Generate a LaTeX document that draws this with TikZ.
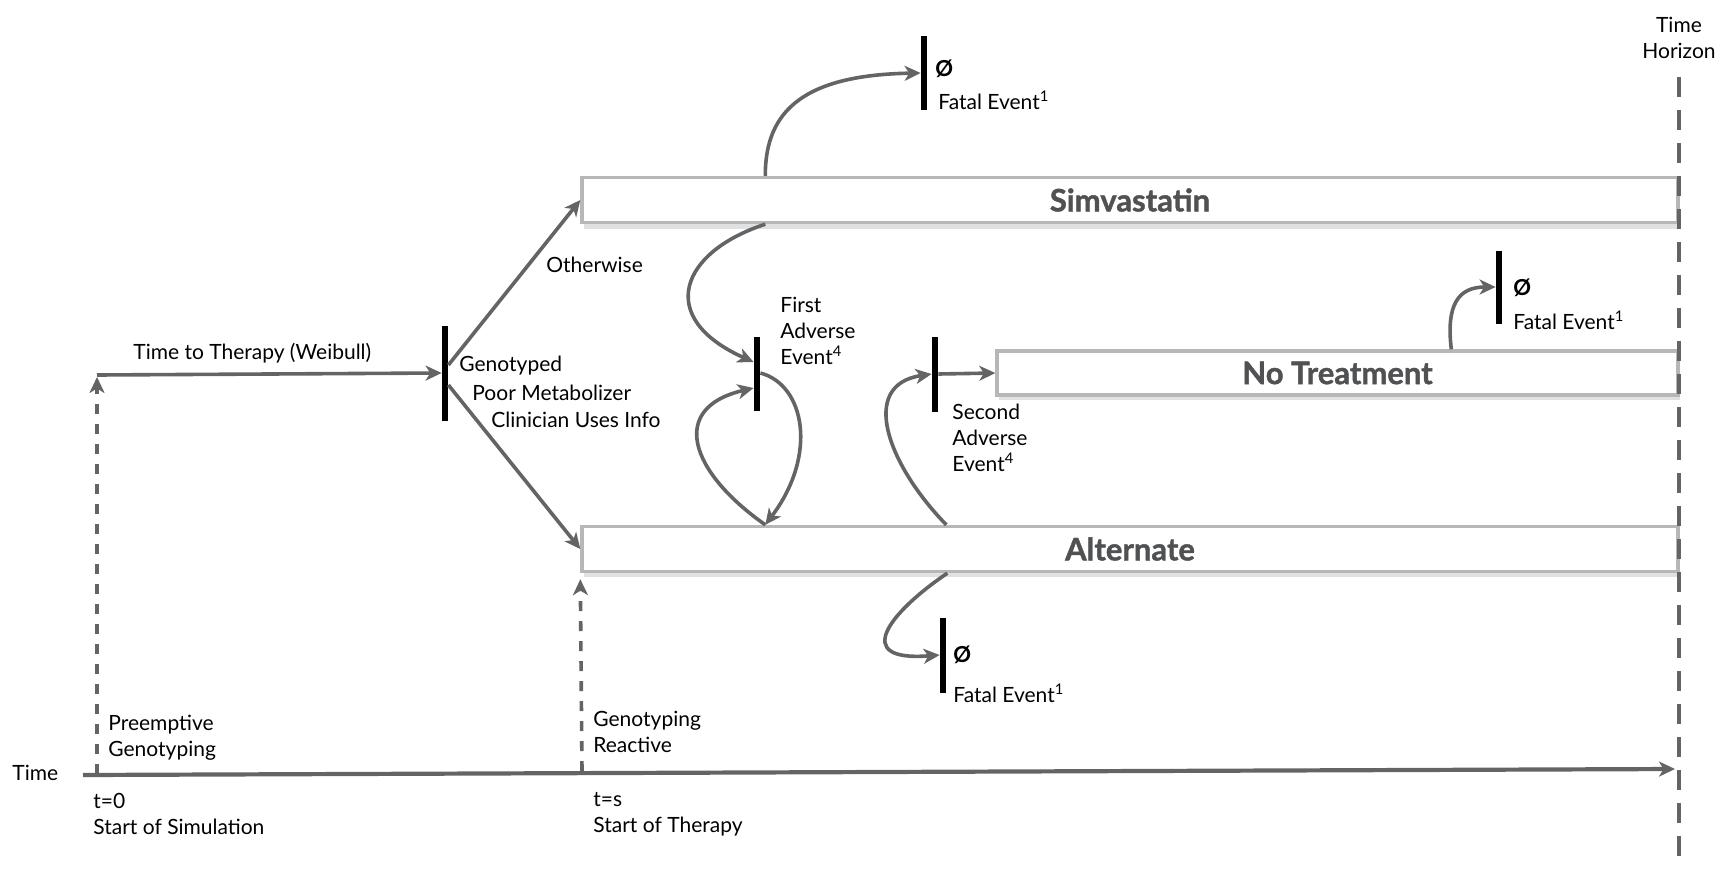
\documentclass[tikz,border=0pt]{standalone}
\usepackage{fontspec}
\setmainfont{Lato}
\newfontfamily\boxfont[BoldFeatures={FakeBold=1.3}]{Lato}
\usetikzlibrary{arrows.meta,calc}
\definecolor{arrgray}{HTML}{636465}
\definecolor{boxgray}{HTML}{B5B7B9}
\definecolor{shadowgray}{HTML}{E0E1E2}
\definecolor{labgray}{HTML}{505153}
\begin{document}
\begin{tikzpicture}[x=0.5pt,y=-0.5pt,
  every node/.style={font=\fontsize{10.5}{13}\selectfont},
  lab/.style={anchor=west,inner sep=0pt,align=left},
  tip/.style={-{Stealth[length=8pt,width=7.5pt,inset=2.3pt]}},
  conn/.style={tip,draw=arrgray,line width=1.8pt},
  dconn/.style={tip,draw=arrgray,line width=1.8pt,dash pattern=on 5pt off 5pt},
  bar/.style={fill=black,inner sep=0pt,minimum width=3pt},
  statebox/.style={draw=boxgray,line width=1.7pt,fill=white,inner sep=0pt,
     font=\boxfont\fontsize{15.5}{17}\bfseries\selectfont,text=labgray},
]
\useasboundingbox (0,0) rectangle (1729,868);

% shadows of boxes
\fill[shadowgray] (584,218) rectangle (1680,229);
\fill[shadowgray] (999,390) rectangle (1680,400);
\fill[shadowgray] (584,566) rectangle (1680,577);

% state boxes
\node[statebox,minimum width=548pt,minimum height=22.5pt] (sim) at (1130,200) {Simvastatin};
\node[statebox,minimum width=340.5pt,minimum height=22pt] (notr) at (1337.5,373) {No Treatment};
\node[statebox,minimum width=548pt,minimum height=22.5pt] (alt) at (1130,549) {Alternate};

% time horizon
\node[lab,anchor=center,align=center] (th) at (1679,38) {Time\\Horizon};
\coordinate (h0) at (1679,77);
\coordinate (h1) at (1679,868);
\draw[arrgray,line width=2pt,dash pattern=on 10pt off 6.5pt] (h0) -- (h1);

% time axis
\coordinate (ta0) at (83,775);
\coordinate (ta1) at (1675,769);
\draw[conn,line width=2.1pt] (ta0) -- (ta1);
\node[lab] (tl) at (12,773) {Time};
\node[lab] (t0) at (93,814) {t=0\\Start of Simulation};
\node[lab] (ts) at (593,814) {t=s\\Start of Therapy};

% genotyping dashed arrows
\coordinate (d0) at (97,774);
\coordinate (c0) at (97,375);
\coordinate (d1) at (582,771);
\draw[dconn] (d0) -- ([yshift=-1pt]c0);
\draw[dconn] (d1) -- ([yshift=-3pt]alt.south west);
\node[lab] (pg) at (108,738) {Preemptive\\Genotyping};
\node[lab] (rg) at (593,732) {Genotyping\\Reactive};

% decision bar
\node[bar,minimum height=47.5pt] (g) at (445,373) {};
\draw[conn] (c0) -- (g.west);
\node[lab] (ttt) at (133,353) {Time to Therapy (Weibull)};
\draw[conn] ([yshift=4pt]g.east) -- (sim.west);
\draw[conn] ([yshift=-6pt]g.east) -- (alt.west);
\node[lab] (oth) at (546,265) {Otherwise};
\node[lab] (gt1) at (459,366) {Genotyped};
\node[lab] (gt2) at (472,393) {Poor Metabolizer};
\node[lab] (gt3) at (491,420) {Clinician Uses Info};

% fatal event from Simvastatin
\node[bar,minimum height=37pt] (fb1) at (924,73) {};
\node[lab,font=\fontsize{11}{13}\bfseries\selectfont] (z1) at (935,69) {Ø};
\node[lab] (fe1) at (938,100) {Fatal Event\textsuperscript{1}};
\draw[conn] ([xshift=92.5pt]sim.north west) .. controls (765,110) and (805,75) .. (fb1.west);

% first adverse event
\node[bar,minimum height=37pt] (fa1) at (757,374) {};
\node[lab] (fa1l) at (780,331) {First\\Adverse\\Event\textsuperscript{4}};
\draw[conn] ([xshift=92.5pt]sim.south west) .. controls (680,252) and (655,318) .. ([yshift=6pt]fa1.west);
\draw[conn] ([yshift=0.5pt]fa1.east) .. controls (805,385) and (818,455) .. ([xshift=92.5pt]alt.north west);
\draw[conn] ([xshift=92.5pt]alt.north west) .. controls (690,472) and (668,408) .. ([yshift=-7pt]fa1.west);

% second adverse event
\node[bar,minimum height=37.5pt] (fa2) at (935,374) {};
\node[lab] (fa2l) at (952,438) {Second\\Adverse\\Event\textsuperscript{4}};
\draw[conn] (fa2.east) -- (notr.west);
\draw[conn] ([xshift=183pt]alt.north west) .. controls (888,465) and (858,385) .. (fa2.west);

% fatal event from No Treatment
\node[bar,minimum height=36.5pt] (fb2) at (1499,287) {};
\node[lab,font=\fontsize{11}{13}\bfseries\selectfont] (z2) at (1513,288) {Ø};
\node[lab] (fe2) at (1513,320) {Fatal Event\textsuperscript{1}};
\draw[conn] ([xshift=228pt]notr.north west) .. controls (1446,305) and (1458,287) .. (fb2.west);

% fatal event from Alternate
\node[bar,minimum height=37.5pt] (fb3) at (943,655) {};
\node[lab,font=\fontsize{11}{13}\bfseries\selectfont] (z3) at (953,655) {Ø};
\node[lab] (fe3) at (953,693) {Fatal Event\textsuperscript{1}};
\draw[conn] ([xshift=183.5pt]alt.south west) .. controls (890,612) and (850,662) .. (fb3.west);
\end{tikzpicture}
\end{document}
